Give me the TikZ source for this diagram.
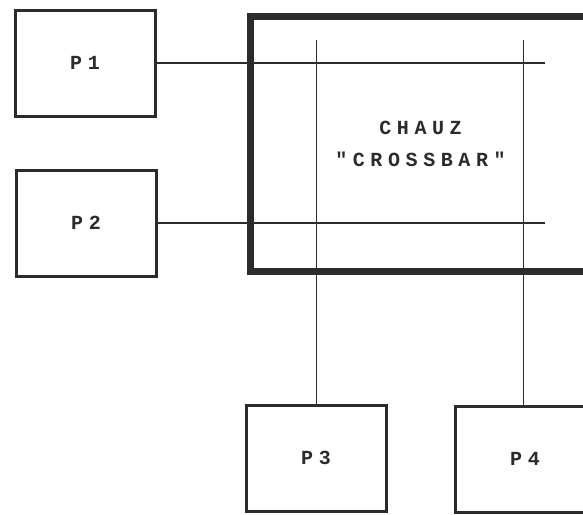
\documentclass[tikz,border=0pt]{standalone}
\usepackage{fontspec}
\newfontfamily\dotfont[LetterSpace=28]{Liberation Mono}
\usetikzlibrary{positioning}
\definecolor{cink}{HTML}{2B2B2B}
\tikzset{
  every picture/.style={x=1pt, y=-1pt},
  pbox/.style={draw=cink, line width=3pt, minimum width=140pt, minimum height=106pt, inner sep=0pt, font=\dotfont\bfseries\fontsize{20}{32}\selectfont, text=cink},
  xbar/.style={draw=cink, line width=7pt, minimum width=340pt, minimum height=255pt, align=center, inner sep=0pt, font=\dotfont\bfseries\fontsize{20}{32}\selectfont, text=cink},
  wire/.style={draw=cink, line width=1.4pt},
}

\begin{document}
\begin{tikzpicture}
\clip (0,0) rectangle (583,514);
\fill[white] (0,0) rectangle (583,514);
% processors and switch
\node[pbox] (p1) at (85,63) {P1};
\node[pbox] (p2) at (86,223) {P2};
\node[pbox] (p3) at (316,458) {P3};
\node[pbox] (p4) at (525,459) {P4};
\node[xbar] (xb) at (420.5,144) {CHAUZ\\"CROSSBAR"};
% crossbar wires
\coordinate (h1) at (545,63);
\coordinate (h2) at (545,223);
\coordinate (v1) at (316,40);
\coordinate (v2) at (523,40);
\draw[wire] (p1.east) -- (h1);
\draw[wire] (p2.east) -- (h2);
\draw[wire, line width=1pt] (v1) -- (p3.north);
\draw[wire, line width=1pt] (v2) -- (v2 |- p4.north);
\end{tikzpicture}
\end{document}
